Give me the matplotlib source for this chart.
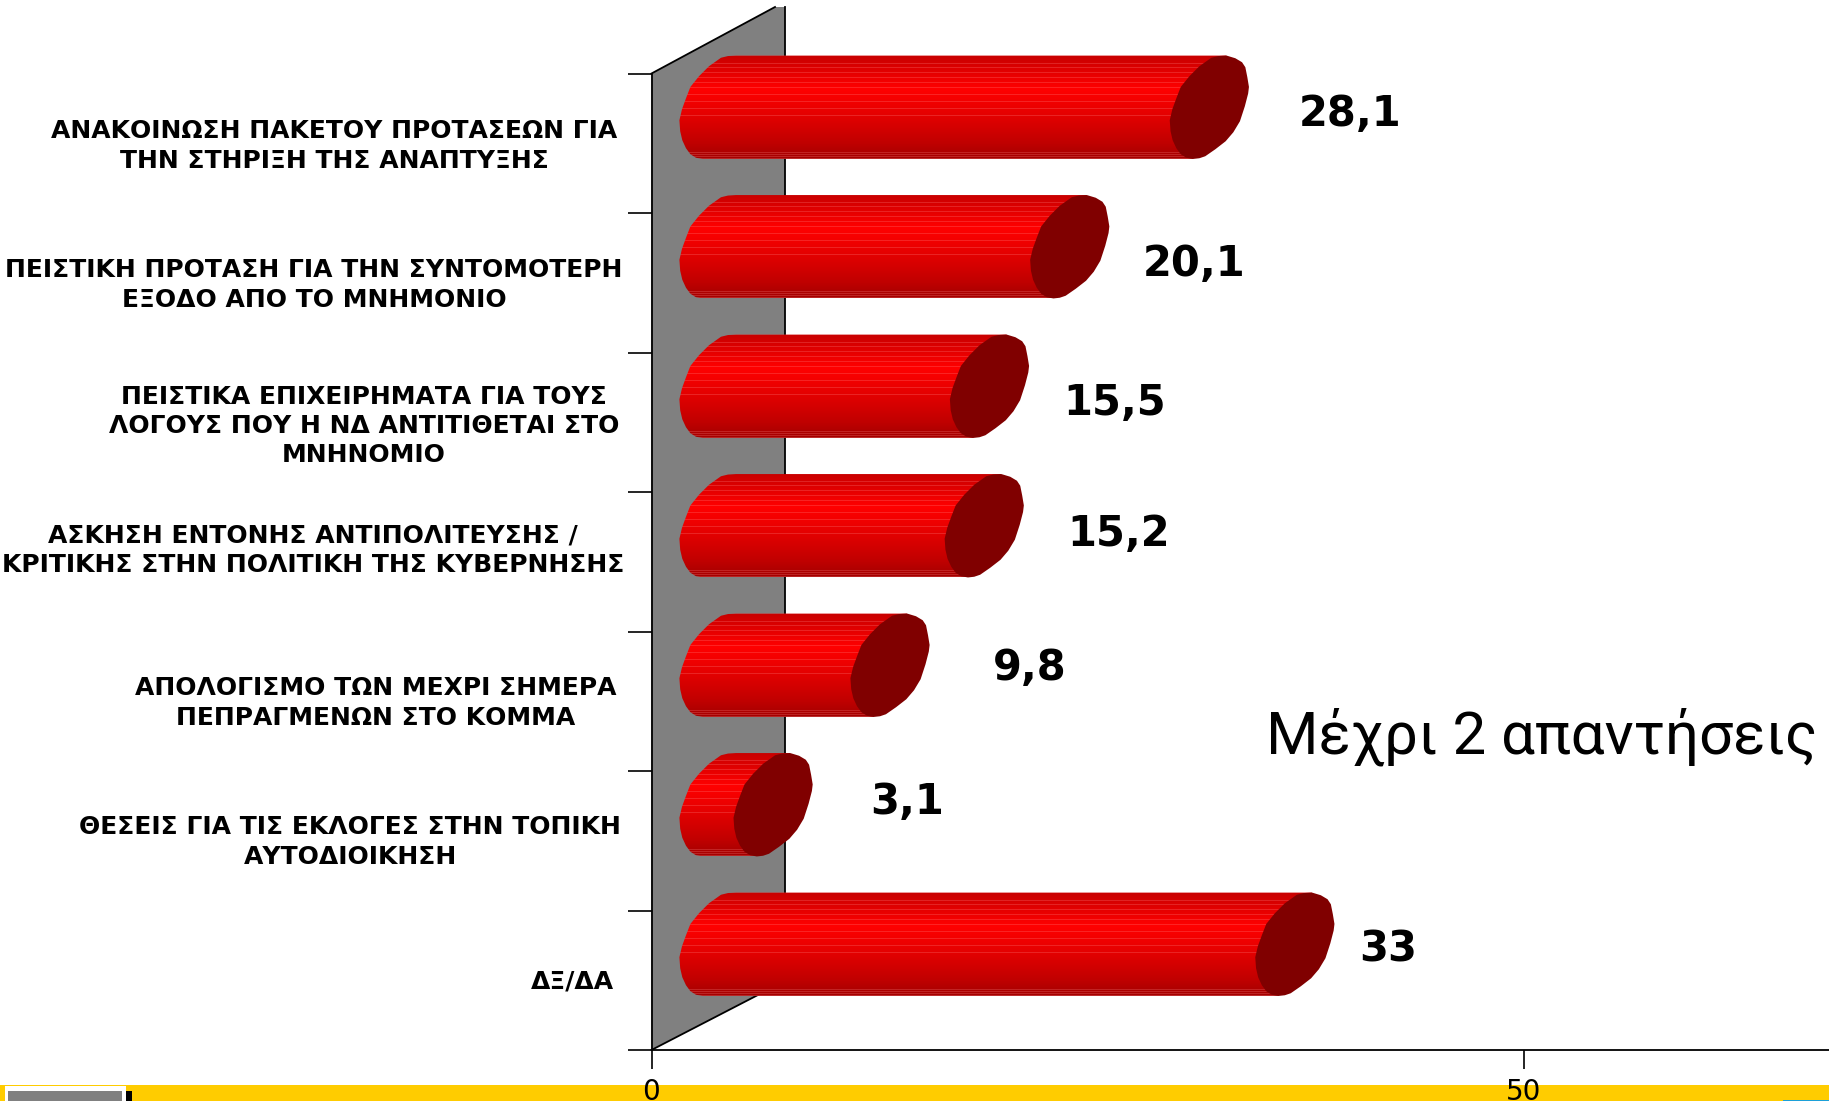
import numpy as np
import matplotlib
matplotlib.use("Agg")
import matplotlib.pyplot as plt
from matplotlib.colors import LinearSegmentedColormap
from matplotlib.patches import Polygon, Rectangle

categories = [
    "ΑΝΑΚΟΙΝΩΣΗ ΠΑΚΕΤΟΥ ΠΡΟΤΑΣΕΩΝ ΓΙΑ\nΤΗΝ ΣΤΗΡΙΞΗ ΤΗΣ ΑΝΑΠΤΥΞΗΣ",
    "ΠΕΙΣΤΙΚΗ ΠΡΟΤΑΣΗ ΓΙΑ ΤΗΝ ΣΥΝΤΟΜΟΤΕΡΗ\nΕΞΟΔΟ ΑΠΟ ΤΟ ΜΝΗΜΟΝΙΟ",
    "ΠΕΙΣΤΙΚΑ ΕΠΙΧΕΙΡΗΜΑΤΑ ΓΙΑ ΤΟΥΣ\nΛΟΓΟΥΣ ΠΟΥ Η ΝΔ ΑΝΤΙΤΙΘΕΤΑΙ ΣΤΟ\nΜΝΗΝΟΜΙΟ",
    "ΑΣΚΗΣΗ ΕΝΤΟΝΗΣ ΑΝΤΙΠΟΛΙΤΕΥΣΗΣ /\nΚΡΙΤΙΚΗΣ ΣΤΗΝ ΠΟΛΙΤΙΚΗ ΤΗΣ ΚΥΒΕΡΝΗΣΗΣ",
    "ΑΠΟΛΟΓΙΣΜΟ ΤΩΝ ΜΕΧΡΙ ΣΗΜΕΡΑ\nΠΕΠΡΑΓΜΕΝΩΝ ΣΤΟ ΚΟΜΜΑ",
    "ΘΕΣΕΙΣ ΓΙΑ ΤΙΣ ΕΚΛΟΓΕΣ ΣΤΗΝ ΤΟΠΙΚΗ\nΑΥΤΟΔΙΟΙΚΗΣΗ",
    "ΔΞ/ΔΑ",
]
values = [28.1, 20.1, 15.5, 15.2, 9.8, 3.1, 33]
value_labels = ["28,1", "20,1", "15,5", "15,2", "9,8", "3,1", "33"]
x_ticks = [0, 50]
note = "Μέχρι 2 απαντήσεις"

# layout in reference pixels
WIDTH, HEIGHT = 1829, 1101
X0, Y0, Y_TOP = 651.5, 1050, 73.5
K = (1524 - X0) / 50
DY = (Y0 - Y_TOP) / 7
label_xc = [334, 314, 364, 313, 376, 350, 572]
label_yc = [146, 285, 426, 550, 703, 842, 981]
value_x = [1299, 1143, 1063, 1067, 993, 870, 1359]
value_y = [114, 264, 403, 534, 668, 802, 950]


def xd(px):
    return (px - X0) / K


def yd(px):
    return (px - Y_TOP) / DY


start = xd(719)
half_h = 51.7 / DY
skew = 17.1 / K
lift = 36 / DY
# outline of a cylinder end, pixels from its centre, clockwise from the top
cap_dx = np.array([17.1, 26, 32.7, 36, 38, 39.6, 38.8, 35.5, 30.6, 24, 16.3, 6, -4.1, -10, -16.3,
                   -23, -28.6, -33, -36.7, -38.8, -39.6, -37, -33, -28.6, -20, -10, 2, 9]) / K
cap_dy = np.array([-51.7, -49, -45, -40, -30, -20.3, -13.7, -1, 14, 25, 34, 42, 49, 51, 51.7,
                   50.5, 47, 41, 33, 24, 13, 2, -9, -20.3, -31, -41, -49.5, -51.2]) / DY
LOW = 14  # index of the lowest outline point

bar_cmap = LinearSegmentedColormap.from_list(
    "cyl",
    [(0, "#c80000"), (0.32, "#ff0000"), (0.58, "#e40000"), (0.85, "#c00000"), (1, "#a40000")],
)
gradient = bar_cmap(np.linspace(0, 1, 104))[:, None, :3].copy()
for r in [0, 8, 12, 17, 22, 27, 32, 39, 46, 53, 60, 97, 99, 101, 103]:
    gradient[r] = gradient[r] * 0.75 + np.array([1, 0.55, 0.55]) * 0.25

fig = plt.figure(figsize=(WIDTH / 100, HEIGHT / 100), dpi=100)
ax = fig.add_axes([0, 0, 1, 1])
ax.patch.set_visible(False)

# yellow strip at the bottom with the leftover slide furniture
ax.add_patch(Rectangle((xd(0), yd(1085)), WIDTH / K, 16 / DY, color="#ffcc00", lw=0, zorder=1))
ax.add_patch(Rectangle((xd(5), yd(1086)), 121 / K, 15 / DY, color="white", lw=0, zorder=1.1))
ax.add_patch(Rectangle((xd(8), yd(1091)), 114 / K, 10 / DY, color="#808080", lw=0, zorder=1.2))
ax.add_patch(Rectangle((xd(126), yd(1091)), 6 / K, 10 / DY, color="black", lw=0, zorder=1.2))
ax.add_patch(Rectangle((xd(1783), yd(1100)), 46 / K, 1 / DY, color="#1ca0d8", lw=0, zorder=1.2))

# grey side wall
wall = [(0, 0), (xd(775), yd(7)), (xd(785), yd(7)), (xd(785), yd(981)), (0, 7)]
ax.add_patch(Polygon(wall, closed=True, color="#808080", lw=0, zorder=1.3))
ax.plot([0, xd(775)], [0, yd(7)], color="black", lw=1.3, zorder=1.4)
ax.plot([xd(785), xd(785), 0], [yd(7), yd(981), 7], color="black", lw=1.3, zorder=1.4)

for i, v in enumerate(values):
    yc = i + 0.5 - lift
    xc = start + v
    # near cap outline from top round the left side, then the straight body
    arc = [0] + list(range(len(cap_dx) - 1, LOW - 1, -1))
    outline = [(start + cap_dx[j], yc + cap_dy[j]) for j in arc]
    outline += [(xc + cap_dx[LOW], yc + cap_dy[LOW]), (xc + cap_dx[0], yc + cap_dy[0])]
    body = Polygon(outline, closed=True, facecolor="none", edgecolor="none", zorder=3)
    ax.add_patch(body)
    im = ax.imshow(
        gradient,
        extent=(start + cap_dx.min(), xc + skew, yc + half_h, yc - half_h),
        aspect="auto",
        interpolation="nearest",
        zorder=3,
    )
    im.set_clip_path(body)
    ax.fill(xc + cap_dx, yc + cap_dy, color="#800000", lw=0, zorder=4)

    ax.text(xd(label_xc[i]), yd(label_yc[i]), categories[i], ha="center", va="center", ma="center",
            fontsize=18, fontweight="bold", family="DejaVu Sans", linespacing=1.27, zorder=5)
    ax.text(xd(value_x[i]), yd(value_y[i]), value_labels[i], ha="left", va="center",
            fontsize=30, fontweight="bold", family="DejaVu Sans", zorder=5)

ax.text(xd(1266), yd(737), note, ha="left", va="center", fontsize=43.2, family="Roboto", zorder=5)

# axes lines through the data origin
for side in ["top", "right"]:
    ax.spines[side].set_visible(False)
ax.spines["left"].set_position(("data", 0))
ax.spines["left"].set_bounds(0, 7)
ax.spines["bottom"].set_position(("data", 7))
ax.spines["bottom"].set_bounds(0, xd(WIDTH))
ax.spines["bottom"].set_linewidth(1.3)
ax.spines["left"].set_linewidth(1.3)
ax.set_yticks(range(8))
ax.set_yticklabels([])
ax.tick_params(axis="y", direction="out", length=17.3, width=1.2)
ax.set_xticks(x_ticks)
ax.set_xticklabels([str(x) for x in x_ticks], fontsize=20, family="DejaVu Sans")
ax.tick_params(axis="x", direction="out", length=13.7, width=1.2, pad=6.5)

ax.set_xlim(xd(0), xd(WIDTH))
ax.set_ylim(yd(HEIGHT), yd(0))
fig.savefig("out.png", dpi=100)
